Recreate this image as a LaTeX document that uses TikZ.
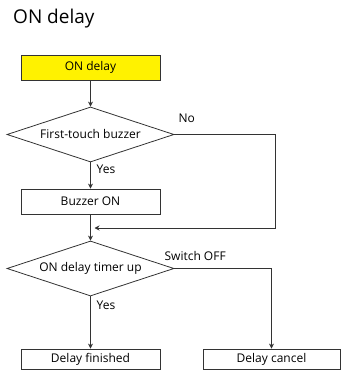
\documentclass[tikz,border=0pt]{standalone}
\usepackage{fontspec}
\setmainfont{Open Sans}
\usetikzlibrary{shapes.geometric, arrows.meta, positioning, calc}
\definecolor{linegray}{HTML}{333333}
\definecolor{startyellow}{HTML}{FFF200}
\tikzset{
  stepbox/.style={draw=linegray, line width=0.8pt, minimum width=139pt, minimum height=25pt,
                  inner sep=0pt, font=\fontsize{12}{14}\selectfont, align=center},
  decision/.style={diamond, draw=linegray, line width=0.8pt, minimum width=167pt, minimum height=55pt,
                   inner sep=0pt, aspect=3, font=\fontsize{12}{14}\selectfont, align=center},
  flowarrow/.style={-{Stealth[length=5pt, width=5pt]}, line width=0.8pt, linegray},
  flowlabel/.style={font=\fontsize{12}{14}\selectfont, inner sep=0pt},
}

\begin{document}
\begin{tikzpicture}[x=1pt, y=-1pt]
  \useasboundingbox (0,0) rectangle (341,387);

  % Title
  \node[anchor=base west, inner sep=0pt, font=\fontsize{19}{22}\selectfont] (title) at (13,24) {ON delay};

  % Boxes and decisions
  \node[stepbox, fill=startyellow] (start) at (90.5,67.5) {ON delay};
  \node[decision] (touch) at (90.5,134.5) {First-touch buzzer};
  \node[stepbox] (buzzer) at (90.5,201.5) {Buzzer ON};
  \node[decision] (timer) at (90.5,268.5) {ON delay timer up};
  \node[stepbox, minimum height=20pt] (finished) at (90.5,359) {Delay finished};
  \node[stepbox, minimum width=137pt, minimum height=20pt] (cancel) at (271.5,359) {Delay cancel};
  \coordinate (merge) at (94.5,228);

  % Main flow
  \draw[flowarrow] (start) -- (touch);
  \draw[flowarrow] (touch) -- (buzzer);
  \draw[flowarrow] (buzzer) -- (timer);
  \draw[flowarrow] (timer) -- (finished);

  % Side branches
  \draw[flowarrow] (touch.east) -- ++(101,0) |- (merge);
  \draw[flowarrow] (timer.east) -| (cancel.north);

  % Branch labels
  \node[flowlabel, anchor=south west] (no) at ([xshift=4pt, yshift=12pt]touch.east) {No};
  \node[flowlabel, anchor=west] (yes1) at ([xshift=6pt, yshift=-7pt]touch.south) {Yes};
  \node[flowlabel, anchor=south west] (off) at ([xshift=-10pt, yshift=8pt]timer.east) {Switch OFF};
  \node[flowlabel, anchor=west] (yes2) at ([xshift=6pt, yshift=-9pt]timer.south) {Yes};
\end{tikzpicture}
\end{document}
